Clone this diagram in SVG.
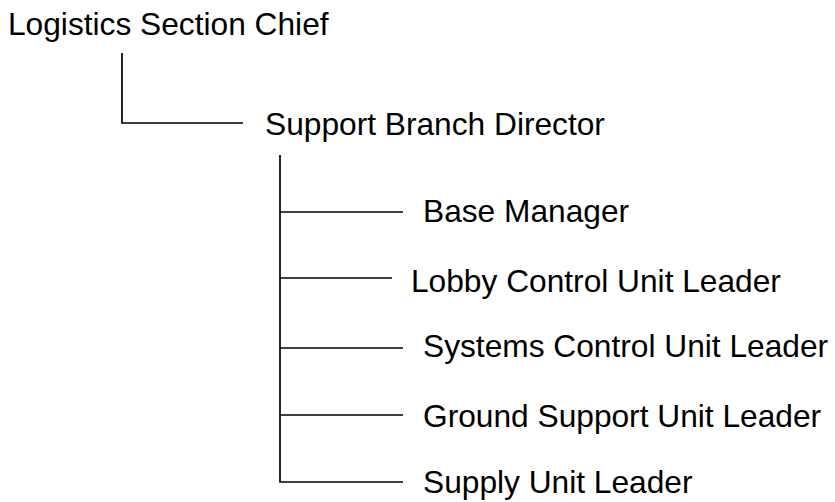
<svg xmlns="http://www.w3.org/2000/svg" width="835" height="502" viewBox="0 0 835 502">
<style>
.t{font-family:"Liberation Sans",Arial,sans-serif;font-size:31.7px;fill:#000}
.c{stroke:#000;stroke-width:1.7;fill:none}
</style>
<rect width="835" height="502" fill="#fff"/>
<g id="connectors">
<path class="c" d="M122 53V123H243"/>
<path class="c" d="M280 155V482H403"/>
<path class="c" d="M280 212H403"/>
<path class="c" d="M280 278H392"/>
<path class="c" d="M280 348H403"/>
<path class="c" d="M280 415H403"/>
</g>
<g id="logistics"><text class="t" x="8" y="35">Logistics Section Chief</text></g>
<g id="support"><text class="t" x="265" y="135">Support Branch Director</text></g>
<g id="base"><text class="t" x="423" y="222">Base Manager</text></g>
<g id="lobby"><text class="t" x="411" y="292">Lobby Control Unit Leader</text></g>
<g id="systems"><text class="t" x="423" y="357">Systems Control Unit Leader</text></g>
<g id="ground"><text class="t" x="423" y="427">Ground Support Unit Leader</text></g>
<g id="supply"><text class="t" x="423" y="493">Supply Unit Leader</text></g>
</svg>
